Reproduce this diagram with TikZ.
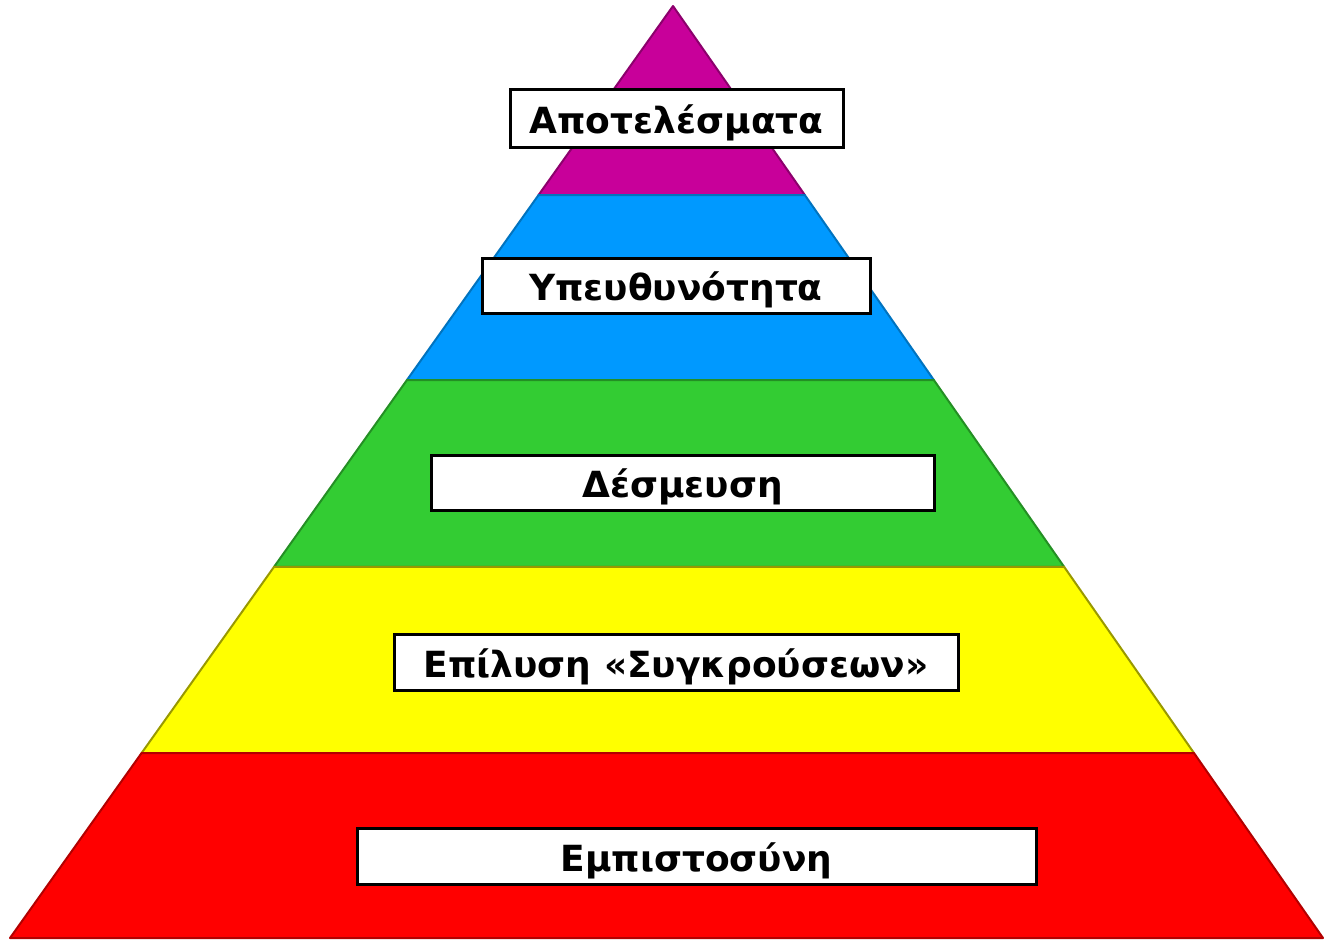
\documentclass[tikz,border=0pt]{standalone}
\usepackage{fontspec}
\setmainfont{DejaVu Sans}
\usetikzlibrary{calc}

\definecolor{topmag}{RGB}{200,0,154}
\definecolor{skyblue}{RGB}{0,153,255}
\definecolor{leafgreen}{RGB}{51,204,51}
\definecolor{lemon}{RGB}{255,255,0}
\definecolor{fire}{RGB}{255,0,0}

\tikzset{
  tier/.style={line width=2pt, line join=round},
  tag/.style={draw=black, fill=white, line width=3pt, inner sep=0pt,
    font=\fontsize{36}{36}\selectfont\bfseries, text height=30pt, text depth=0pt}
}

\begin{document}
\begin{tikzpicture}[x=1pt,y=-1pt]
\useasboundingbox (0,0) rectangle (1324,940);
\coordinate (apex) at (673,6);
\coordinate (bl) at (10,938);
\coordinate (br) at (1323,938);
\coordinate (l1) at ($(apex)!0.2028!(bl)$);
\coordinate (r1) at ($(apex)!0.2028!(br)$);
\coordinate (l2) at ($(apex)!0.4013!(bl)$);
\coordinate (r2) at ($(apex)!0.4013!(br)$);
\coordinate (l3) at ($(apex)!0.6019!(bl)$);
\coordinate (r3) at ($(apex)!0.6019!(br)$);
\coordinate (l4) at ($(apex)!0.8015!(bl)$);
\coordinate (r4) at ($(apex)!0.8015!(br)$);
\filldraw[tier, fill=topmag, draw=topmag!70!black] (apex) -- (r1) -- (l1) -- cycle;
\filldraw[tier, fill=skyblue, draw=skyblue!75!black] (l1) -- (r1) -- (r2) -- (l2) -- cycle;
\filldraw[tier, fill=leafgreen, draw=leafgreen!70!black] (l2) -- (r2) -- (r3) -- (l3) -- cycle;
\filldraw[tier, fill=lemon, draw=lemon!60!black] (l3) -- (r3) -- (r4) -- (l4) -- cycle;
\filldraw[tier, fill=fire, draw=fire!70!black] (l4) -- (r4) -- (br) -- (bl) -- cycle;
\node[tag, minimum width=333pt, minimum height=58pt] (results) at (676.5,118) {Αποτελέσματα};
\node[tag, minimum width=388pt, minimum height=55pt] (account) at (676,285.5) {Υπευθυνότητα};
\node[tag, minimum width=503pt, minimum height=55pt] (commit) at (682.5,482.5) {Δέσμευση};
\node[tag, minimum width=564pt, minimum height=56pt] (conflict) at (676,662) {Επίλυση «Συγκρούσεων»};
\node[tag, minimum width=679pt, minimum height=56pt] (trust) at (696.5,856) {Εμπιστοσύνη};
\end{tikzpicture}
\end{document}
